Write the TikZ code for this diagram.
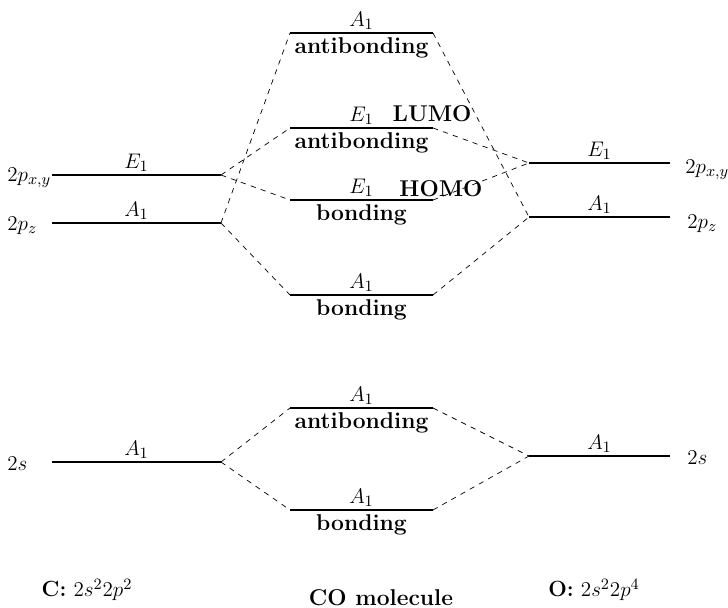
\documentclass[tikz,border=0pt]{standalone}
\usepackage{amsmath,amssymb}
\usepackage{tikz}
\usetikzlibrary{positioning,calc}

\begin{document}
\begin{tikzpicture}[
          x=0.02cm, y=-0.02cm,
          level/.style={line width=1.1pt},
          mix/.style={dashed, thin},
          sym/.style={above, inner sep=1.5pt, font=\fontsize{13}{15}\selectfont},
          kind/.style={below, inner sep=2pt, font=\fontsize{13}{15}\selectfont\bfseries},
          orb/.style={font=\fontsize{12.5}{15}\selectfont, inner sep=0pt},
          tag/.style={font=\fontsize{13}{15}\selectfont\bfseries}
      ]
        \useasboundingbox (0,0) rectangle (728,608);
        % carbon levels
        \coordinate (cE-l) at (52,175);  \coordinate (cE-r) at (221,175);
        \coordinate (cA-l) at (52,223);  \coordinate (cA-r) at (221,223);
        \coordinate (cS-l) at (52,462);  \coordinate (cS-r) at (221,462);
        % molecule levels
        \coordinate (mA3-l) at (290,33);  \coordinate (mA3-r) at (433,33);
        \coordinate (mE2-l) at (290,128); \coordinate (mE2-r) at (433,128);
        \coordinate (mE1-l) at (290,200); \coordinate (mE1-r) at (433,200);
        \coordinate (mA2-l) at (290,295); \coordinate (mA2-r) at (433,295);
        \coordinate (mS2-l) at (290,408); \coordinate (mS2-r) at (433,408);
        \coordinate (mS1-l) at (290,510); \coordinate (mS1-r) at (433,510);
        % oxygen levels
        \coordinate (oE-l) at (529,163);  \coordinate (oE-r) at (670,163);
        \coordinate (oA-l) at (529,217);  \coordinate (oA-r) at (670,217);
        \coordinate (oS-l) at (529,456);  \coordinate (oS-r) at (670,456);

        \draw[level] (cE-l) -- node[sym] (cEs) {$E_1$} (cE-r);
        \draw[level] (cA-l) -- node[sym] (cAs) {$A_1$} (cA-r);
        \draw[level] (cS-l) -- node[sym] (cSs) {$A_1$} (cS-r);

        \draw[level] (mA3-l) -- node[sym] (mA3s) {$A_1$} node[kind] (mA3k) {antibonding} (mA3-r);
        \draw[level] (mE2-l) -- node[sym] (mE2s) {$E_1$} node[kind] (mE2k) {antibonding} (mE2-r);
        \draw[level] (mE1-l) -- node[sym] (mE1s) {$E_1$} node[kind] (mE1k) {bonding} (mE1-r);
        \draw[level] (mA2-l) -- node[sym] (mA2s) {$A_1$} node[kind] (mA2k) {bonding} (mA2-r);
        \draw[level] (mS2-l) -- node[sym] (mS2s) {$A_1$} node[kind] (mS2k) {antibonding} (mS2-r);
        \draw[level] (mS1-l) -- node[sym] (mS1s) {$A_1$} node[kind] (mS1k) {bonding} (mS1-r);

        \draw[level] (oE-l) -- node[sym] (oEs) {$E_1$} (oE-r);
        \draw[level] (oA-l) -- node[sym] (oAs) {$A_1$} (oA-r);
        \draw[level] (oS-l) -- node[sym] (oSs) {$A_1$} (oS-r);

        % orbital names
        \node[orb, anchor=west] (cEn) at (7,178) {$2p_{x,y}$};
        \node[orb, anchor=west] (cAn) at (7,226) {$2p_z$};
        \node[orb, anchor=west] (cSn) at (7,464) {$2s$};
        \node[orb, anchor=west] (oEn) at (685,170) {$2p_{x,y}$};
        \node[orb, anchor=west] (oAn) at (687,224) {$2p_z$};
        \node[orb, anchor=west] (oSn) at (687,458) {$2s$};

        \node[tag] (lumo) at (432,114) {LUMO};
        \node[tag] (homo) at (441,189) {HOMO};

        % mixing
        \draw[mix] (cA-r) -- (mA3-l);
        \draw[mix] (cE-r) -- (mE2-l);
        \draw[mix] (cE-r) -- (mE1-l);
        \draw[mix] (cA-r) -- (mA2-l);
        \draw[mix] (mA3-r) -- (oA-l);
        \draw[mix] (mE2-r) -- (oE-l);
        \draw[mix] (mE1-r) -- (oE-l);
        \draw[mix] (mA2-r) -- (oA-l);
        \draw[mix] (cS-r) -- (mS2-l);
        \draw[mix] (cS-r) -- (mS1-l);
        \draw[mix] (mS2-r) -- (oS-l);
        \draw[mix] (mS1-r) -- (oS-l);

        % atoms and molecule
        \node[orb] (carbon) at (87,590) {\textbf{C:} $2s^2 2p^2$};
        \node[tag] (mol) at (381,598) {CO molecule};
        \node[orb] (oxygen) at (594,590) {\textbf{O:} $2s^2 2p^4$};
      \end{tikzpicture}
\end{document}
